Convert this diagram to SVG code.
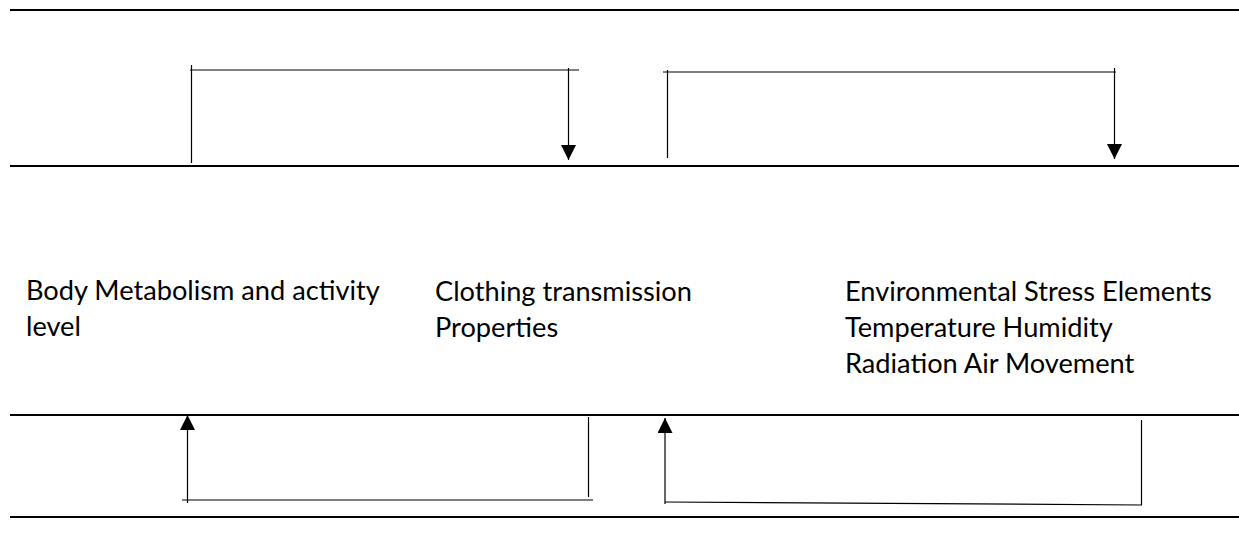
<svg xmlns="http://www.w3.org/2000/svg" width="1239" height="545" viewBox="0 0 1239 545">
<style>
.rule{stroke:#000;stroke-width:2;fill:none}
.con{stroke:#000;stroke-width:1.2;fill:none}
.lbl{font-family:Lato,"Noto Sans","Liberation Sans",sans-serif;font-size:27.2px;fill:#000}
</style>
<defs>
<marker id="ah" markerUnits="userSpaceOnUse" markerWidth="16" markerHeight="16" refX="15" refY="7.5" orient="auto">
<path d="M0,0 L15,7.5 L0,15 z" fill="#000"/>
</marker>
</defs>
<rect width="1239" height="545" fill="#fff"/>
<g id="rules">
<line class="rule" x1="10" y1="10" x2="1239" y2="10"/>
<line class="rule" x1="10" y1="166" x2="1239" y2="166"/>
<line class="rule" x1="10" y1="415" x2="1239" y2="415"/>
<line class="rule" x1="10" y1="517" x2="1239" y2="517"/>
</g>
<g id="connectors">
<line class="con" x1="191.5" y1="65" x2="191.5" y2="163"/>
<line class="con" x1="190" y1="70" x2="579" y2="70"/>
<line class="con" x1="568.5" y1="68" x2="568.5" y2="160" marker-end="url(#ah)"/>
<line class="con" x1="667.5" y1="70" x2="667.5" y2="158"/>
<line class="con" x1="663" y1="72" x2="1116" y2="72"/>
<line class="con" x1="1114.5" y1="68" x2="1114.5" y2="159" marker-end="url(#ah)"/>
<line class="con" x1="187.5" y1="503" x2="187.5" y2="415" marker-end="url(#ah)"/>
<line class="con" x1="182" y1="500" x2="593" y2="500"/>
<line class="con" x1="588.5" y1="417" x2="588.5" y2="497"/>
<line class="con" x1="665" y1="504" x2="665" y2="418" marker-end="url(#ah)"/>
<line class="con" x1="665" y1="502" x2="1142" y2="505"/>
<line class="con" x1="1141.5" y1="420" x2="1141.5" y2="505"/>
</g>
<g id="node-body">
<text class="lbl" x="26" y="300">Body Metabolism and activity</text>
<text class="lbl" x="26" y="336">level</text>
</g>
<g id="node-clothing">
<text class="lbl" x="435" y="301">Clothing transmission</text>
<text class="lbl" x="435" y="337">Properties</text>
</g>
<g id="node-env">
<text class="lbl" x="845" y="301">Environmental Stress Elements</text>
<text class="lbl" x="845" y="337">Temperature Humidity</text>
<text class="lbl" x="845" y="373">Radiation Air Movement</text>
</g>
</svg>
